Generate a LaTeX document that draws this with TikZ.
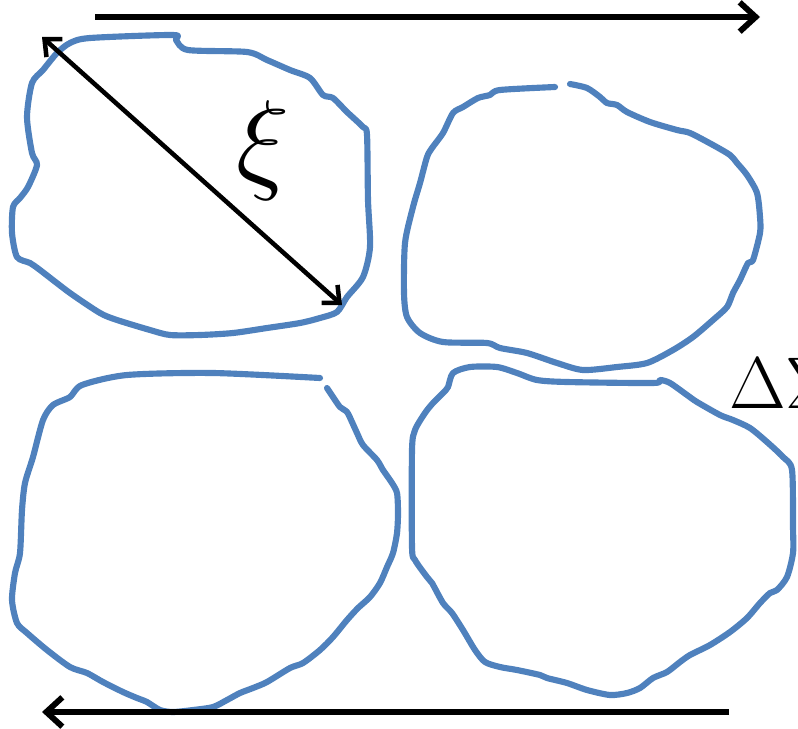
\documentclass[tikz,border=0pt]{standalone}
\usepackage{fix-cm}
\usepackage{fontspec}
\usetikzlibrary{arrows.meta}
\definecolor{blobblue}{HTML}{4F81BD}
\tikzset{
  blob/.style={draw=blobblue, line width=4.6pt, line cap=round, line join=round},
  flowarrow/.style={draw=black, line width=4.4pt, -{Straight Barb[length=12pt,width=22pt]}},
  sizearrow/.style={draw=black, line width=3.4pt, {Straight Barb[length=10pt,width=18pt]}-{Straight Barb[length=10pt,width=18pt]}},
}
\begin{document}
\begin{tikzpicture}[x=0.75pt,y=-0.75pt]
\useasboundingbox (0,0) rectangle (798,728);
\clip (0,0) rectangle (798,728);
% blob 1 (top left)
\draw[blob] plot[smooth cycle, tension=0.45] coordinates {
(90,38) (173,35) (176,40) (188,50) (247,52) (267,60) (290,70) (310,78) (323,95) (333,98) (347,112) (363,127) (367,135)
(368,200) (370,247) (363,277) (347,297) (337,312) (320,318) (300,323) (267,328) (233,333) (200,335) (170,335)
(150,330) (117,320) (100,313) (70,293) (40,270) (30,263) (17,257) (12,233) (13,207) (20,198) (28,187) (37,165)
(32,153) (27,117) (32,83) (43,70) (57,53) (70,43)};
% blob 2 (top right)
\draw[blob] plot[smooth, tension=0.45] coordinates {
(570,84) (587,88) (600,97) (607,103) (617,105) (627,112) (650,122) (677,130) (690,133) (713,145) (730,155)
(737,163) (747,175) (757,193) (760,217) (760,233) (753,260) (748,263) (740,280) (733,293) (727,307) (713,320)
(693,337) (673,350) (647,363) (617,367) (583,370) (557,363) (527,353) (500,348) (487,343) (443,342) (420,333)
(407,317) (404,293) (405,243) (413,207) (420,183) (427,157) (432,148) (443,133) (453,113) (463,107) (478,98)
(490,95) (500,90) (555,87)};
% blob 3 (bottom left)
\draw[blob] plot[smooth, tension=0.45] coordinates {
(320,378) (213,373) (127,375) (82,385) (70,397) (53,405) (43,420) (33,457) (25,483) (22,510) (20,553) (15,573)
(12,600) (17,623) (27,633) (47,650) (70,667) (87,673) (103,682) (123,692) (137,698) (147,702) (160,710) (173,712)
(193,710) (213,707) (227,700) (240,693) (253,688) (267,682) (290,668) (303,663) (320,650) (333,637) (347,620)
(358,608) (370,597) (380,583) (387,567) (393,553) (397,533) (398,513) (397,493) (392,483) (383,470) (377,460)
(363,445) (357,433) (352,422) (347,412) (340,407) (333,397) (327,388)};
% blob 4 (bottom right)
\draw[blob] plot[smooth cycle, tension=0.45] coordinates {
(453,373) (470,367) (497,367) (517,373) (537,380) (567,382) (653,383) (660,380) (670,383) (687,395) (697,402)
(720,415) (733,420) (750,428) (767,442) (783,457) (792,470) (793,527) (793,553) (787,577) (777,590) (770,593)
(760,603) (747,618) (730,632) (710,645) (690,655) (680,662) (667,672) (653,678) (640,688) (627,693) (610,695)
(587,690) (567,683) (547,678) (540,675) (517,670) (500,667) (485,662) (475,650) (463,630) (452,613) (443,603)
(432,583) (427,577) (415,560) (412,547) (412,450) (415,430) (425,413) (433,403) (443,393) (448,387)};
% arrows
\coordinate (topstart) at (95,17);
\coordinate (topend) at (760,17);
\coordinate (botstart) at (729,712);
\coordinate (botend) at (42,712);
\coordinate (dstart) at (42,37);
\coordinate (dend) at (342,305);
\draw[flowarrow] (topstart) -- (topend);
\draw[flowarrow] (botstart) -- (botend);
\draw[sizearrow] (dstart) -- (dend);
% labels
\node[inner sep=0pt] (xi) at (263,150) {\fontsize{84}{84}\selectfont$\xi$};
\node[inner sep=0pt, anchor=base west] (dsigma) at (729,408) {\fontsize{55}{55}\selectfont$\Delta\Sigma$};
\end{tikzpicture}
\end{document}
